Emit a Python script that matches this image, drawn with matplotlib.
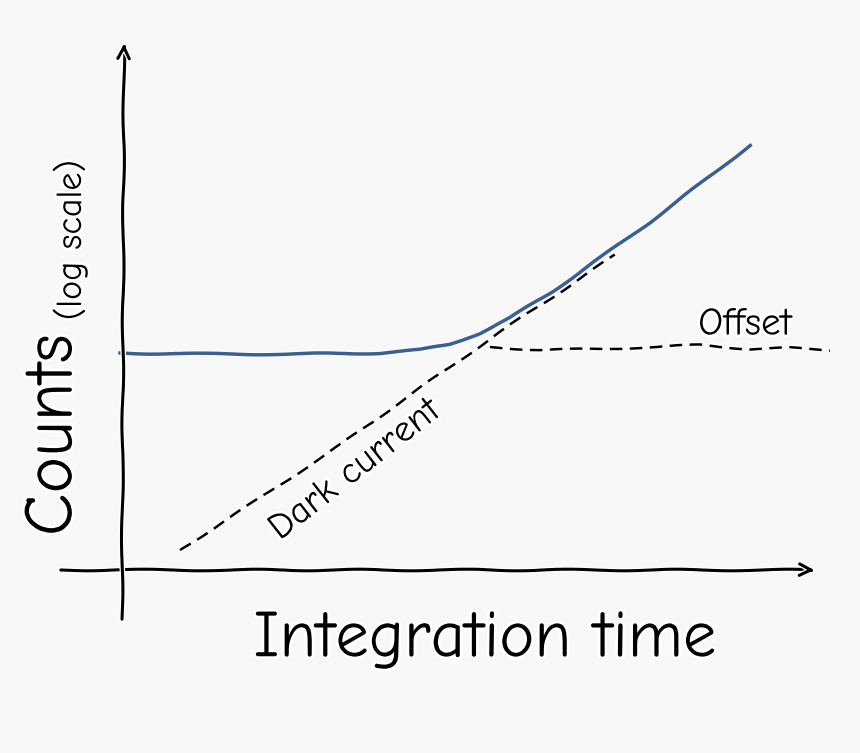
import matplotlib
matplotlib.use("Agg")
import matplotlib.pyplot as plt
import numpy as np

# data (x: integration time, y: log counts)
signal_x = [120, 200, 300, 380, 420, 450, 480, 510, 550, 600, 650, 700, 750]
signal_y = [353, 354, 354, 353, 350, 344, 333, 318, 293, 258, 222, 184, 145]
dark_x = [180, 260, 340, 420, 500, 560, 615]
dark_y = [550, 498, 445, 388, 332, 292, 255]
offset_x = [490, 540, 600, 650, 700, 750, 790, 830]
offset_y = [347, 350, 349, 347, 345, 349, 348, 350]

plt.xkcd(scale=0.8, length=120, randomness=2)
plt.rcParams['font.family'] = ['Comic Neue', 'DejaVu Sans']
fig = plt.figure(figsize=(8.6, 7.53), dpi=100, facecolor='#f8f8f8')
ax = fig.add_axes([0, 0, 1, 1])
ax.set_facecolor('#f8f8f8')
ax.set_xlim(0, 860); ax.set_ylim(753, 0)
ax.axis('off')

ax.annotate('', xy=(818, 570), xytext=(58, 570),
            arrowprops=dict(arrowstyle='->', lw=2.2, color='black', mutation_scale=22))
ax.annotate('', xy=(124, 40), xytext=(122, 622),
            arrowprops=dict(arrowstyle='->', lw=2.2, color='black', mutation_scale=22))

ax.plot(dark_x, dark_y, color='black', lw=1.8, dashes=(5, 3))
ax.plot(offset_x, offset_y, color='black', lw=1.8, dashes=(5, 3))
ax.plot(signal_x, signal_y, '-', color='#3a5f94', lw=2.5)

ax.text(485, 640, 'Integration time', fontsize=48, ha='center', va='center')
ax.text(55, 435, 'Counts', fontsize=50, rotation=90, ha='center', va='center')
ax.text(70, 240, '(log scale)', fontsize=26, rotation=90, ha='center', va='center')
ax.text(355, 470, 'Dark current', fontsize=27, rotation=38, ha='center', va='center')
ax.text(745, 325, 'Offset', fontsize=28, ha='center', va='center')

fig.savefig('out.png', dpi=100, facecolor='#f8f8f8')
